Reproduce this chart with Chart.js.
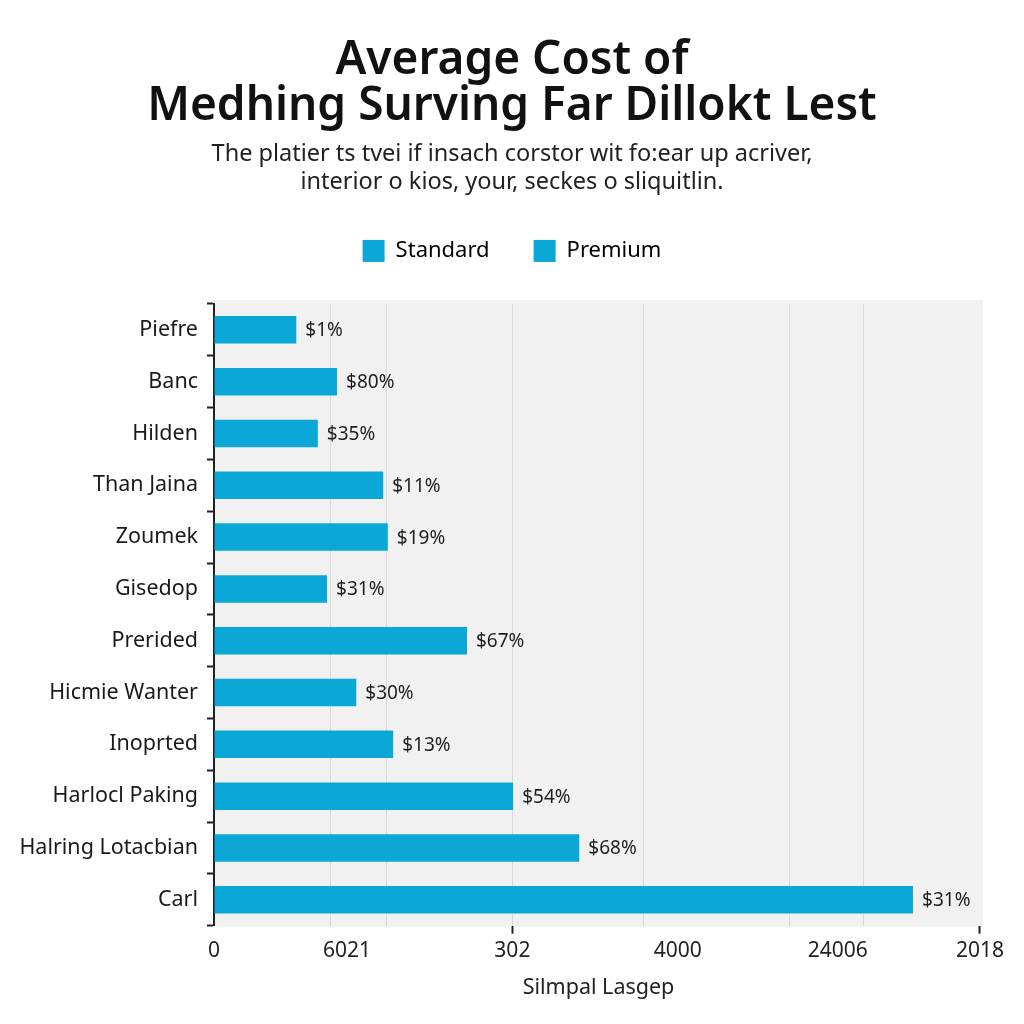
<!DOCTYPE html>
<html>
<head>
<meta charset="utf-8">
<script src="https://cdn.jsdelivr.net/npm/chart.js@4.4.1/dist/chart.umd.min.js"></script>
<style>
  html, body { margin: 0; padding: 0; background: #ffffff; }
  #wrap { width: 1024px; height: 1024px; }
</style>
</head>
<body>
<div id="wrap"><canvas id="c" width="1024" height="1024"></canvas></div>
<script>
const titleLines = ['Average Cost of', 'Medhing Surving Far Dillokt Lest'];
const subtitleLines = ['The platier ts tvei if insach corstor wit fo:ear up acriver,', 'interior o kios, your, seckes o sliquitlin.'];
const seriesNames = ['Standard', 'Premium'];
const categories = ['Piefre', 'Banc', 'Hilden', 'Than Jaina', 'Zoumek', 'Gisedop', 'Prerided', 'Hicmie Wanter', 'Inoprted', 'Harlocl Paking', 'Halring Lotacbian', 'Carl'];
const standardValues = [10.7, 16.0, 13.5, 22.0, 22.6, 14.7, 32.9, 18.5, 23.3, 38.9, 47.5, 90.9];
const valueLabels = ['$1%', '$80%', '$35%', '$11%', '$19%', '$31%', '$67%', '$30%', '$13%', '$54%', '$68%', '$31%'];
const xTickValues = [0, 17.3, 38.8, 60.3, 81.1, 99.6];
const xTickLabels = ['0', '6021', '302', '4000', '24006', '2018'];
const xGridValues = [15.2, 22.4, 38.8, 55.8, 74.9, 84.4];
const xTickMarkValues = [38.8, 99.6];
const xAxisTitle = 'Silmpal Lasgep';

const BAR_COLOR = '#0aa7d7';
const FONT = "'Noto Sans', 'Open Sans', sans-serif";

const plotBg = {
  id: 'plotBg',
  beforeDraw(chart) {
    const {ctx, chartArea: a} = chart;
    ctx.save();
    ctx.fillStyle = '#f1f1f1';
    ctx.fillRect(a.left, a.top - 4, a.right - a.left, a.bottom - a.top + 5);
    ctx.restore();
  }
};

const legendSpacer = {
  id: 'legendSpacer',
  beforeLayout(chart) {
    const lg = chart.legend;
    if (lg && !lg._spacerWrapped) {
      const f = lg.fit;
      lg.fit = function () { f.call(this); this.height += 32; };
      lg._spacerWrapped = true;
    }
  }
};

const barLabels = {
  id: 'barLabels',
  afterDatasetsDraw(chart) {
    const {ctx} = chart;
    const meta = chart.getDatasetMeta(0);
    ctx.save();
    ctx.font = '19px ' + FONT;
    ctx.fillStyle = '#1e1e1e';
    ctx.textAlign = 'left';
    ctx.textBaseline = 'middle';
    meta.data.forEach((el, i) => {
      ctx.fillText(valueLabels[i], el.x + 9, el.y + 1);
    });
    ctx.restore();
  }
};

const allXTicks = Array.from(new Set(xTickValues.concat(xGridValues))).sort((a, b) => a - b);

new Chart(document.getElementById('c'), {
  type: 'bar',
  data: {
    labels: categories,
    datasets: [{
      label: seriesNames[0],
      data: standardValues,
      backgroundColor: BAR_COLOR,
      borderWidth: 0,
      categoryPercentage: 1.0,
      barPercentage: 0.53
    }]
  },
  options: {
    indexAxis: 'y',
    responsive: false,
    animation: false,
    layout: { padding: { left: 0, right: 0, top: 0, bottom: 19 } },
    plugins: {
      title: {
        display: true,
        text: titleLines,
        color: '#111111',
        font: { family: FONT, size: 46, weight: '600', lineHeight: 1.0 },
        padding: { top: 38, bottom: 10 }
      },
      subtitle: {
        display: true,
        text: subtitleLines,
        color: '#222222',
        font: { family: FONT, size: 23.5, weight: '400', lineHeight: 1.19 },
        padding: { top: 0, bottom: 0 }
      },
      legend: {
        display: true,
        position: 'top',
        labels: {
          boxWidth: 22,
          boxHeight: 22,
          padding: 44,
          color: '#222222',
          font: { family: FONT, size: 22 },
          generateLabels() {
            return seriesNames.map((n) => ({
              text: n,
              fillStyle: BAR_COLOR,
              strokeStyle: BAR_COLOR,
              lineWidth: 0,
              hidden: false,
              datasetIndex: 0
            }));
          }
        }
      },
      tooltip: { enabled: false }
    },
    scales: {
      x: {
        type: 'linear',
        min: 0,
        max: 100,
        afterBuildTicks(axis) {
          axis.ticks = allXTicks.map((v) => ({ value: v }));
        },
        ticks: {
          autoSkip: false,
          maxRotation: 0,
          padding: 4.4,
          color: '#222222',
          font: { family: FONT, size: 21 },
          callback(value) {
            const i = xTickValues.indexOf(value);
            return i >= 0 ? xTickLabels[i] : '';
          }
        },
        grid: {
          drawOnChartArea: true,
          drawTicks: true,
          tickLength: 8,
          lineWidth: 1,
          color(ctx) {
            const v = ctx.tick ? ctx.tick.value : null;
            return xGridValues.indexOf(v) >= 0 ? '#d8d8d8' : 'rgba(0,0,0,0)';
          },
          tickColor(ctx) {
            const v = ctx.tick ? ctx.tick.value : null;
            return xTickMarkValues.indexOf(v) >= 0 ? '#222222' : 'rgba(0,0,0,0)';
          },
          tickWidth: 2
        },
        border: { display: false },
        title: {
          display: true,
          text: xAxisTitle,
          color: '#222222',
          font: { family: FONT, size: 21.5 },
          padding: { top: 7.5, bottom: 4 }
        }
      },
      y: {
        afterFit(scale) { scale.width = 214; },
        ticks: {
          color: '#1a1a1a',
          padding: 9,
          font: { family: FONT, size: 21.5 }
        },
        grid: {
          offset: true,
          drawOnChartArea: false,
          drawTicks: true,
          tickLength: 7,
          tickColor: '#222222',
          tickWidth: 2
        },
        border: { display: true, color: '#222222', width: 2 }
      },
      yRightMargin: {
        type: 'category',
        position: 'right',
        display: true,
        afterFit(scale) { scale.width = 41; },
        ticks: { display: false },
        grid: { display: false, drawTicks: false },
        border: { display: false }
      }
    }
  },
  plugins: [plotBg, legendSpacer, barLabels]
});
</script>
</body>
</html>
